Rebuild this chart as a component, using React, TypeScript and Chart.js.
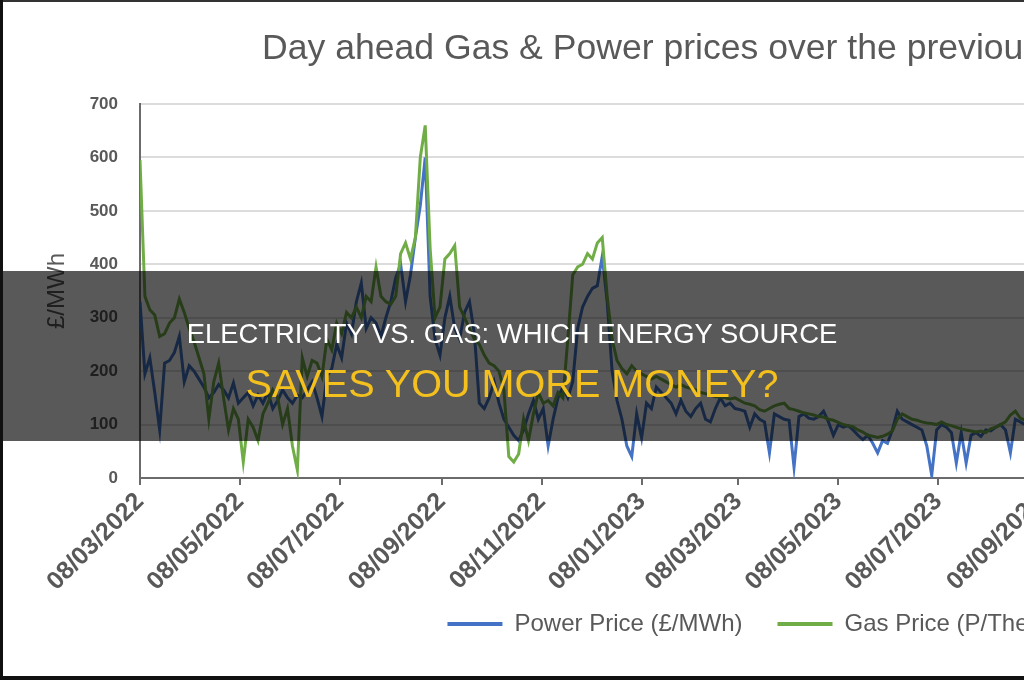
import React, { useEffect, useRef } from 'react';
import { Chart, registerables } from 'chart.js';

Chart.register(...registerables);

// one value every DAY_STEP days, starting 08/03/2022
const DAY_STEP = 3;

const POWER_PRICE = [
  330, 195, 225, 160, 90, 215, 220, 235, 265, 180,
  210, 200, 185, 170, 150, 160, 175, 165, 150, 178,
  140, 150, 160, 135, 155, 140, 160, 130, 145, 165,
  150, 140, 155, 150, 165, 180, 150, 115, 190, 205,
  250, 225, 290, 270, 330, 365, 280, 300, 290, 265,
  300, 330, 375, 400, 330, 380, 450, 510, 600, 340,
  260, 230, 300, 340, 280, 260, 310, 330, 270, 140,
  130, 150, 180, 140, 110, 95, 80, 70, 90, 120,
  145, 110, 130, 60, 110, 150, 170, 150, 180, 280,
  320, 340, 355, 360, 415, 330, 200, 145, 110, 60,
  40, 120, 75, 140, 130, 170, 160, 150, 140, 120,
  145, 125, 115, 130, 140, 110, 105, 130, 150, 135,
  140, 130, 128, 125, 95, 120, 110, 105, 47, 120,
  115, 110, 108, 20, 115, 120, 112, 110, 115, 125,
  105, 80, 100, 95, 98, 90, 80, 72, 80, 65,
  47, 70, 65, 90, 125, 110, 105, 100, 95, 90,
  60, 5, 90, 100, 95, 85, 28, 85, 28, 80,
  85, 78, 90, 88, 95, 100, 90, 47, 110, 105,
  100, 95,
];

const GAS_PRICE = [
  595, 340, 315, 305, 265, 270, 290, 300, 335, 310,
  280, 255, 225, 195, 110, 180, 215, 150, 90, 130,
  110, 30, 110, 95, 70, 120, 140, 165, 150, 100,
  130, 60, 15, 225, 190, 220, 215, 190, 260, 240,
  290, 270, 310, 300, 320, 300, 340, 330, 395, 340,
  330, 325, 340, 420, 440, 410, 450, 600, 660, 430,
  300, 320, 410, 420, 435, 320, 300, 280, 260, 250,
  230, 215, 210, 200, 165, 40, 30, 45, 110, 70,
  120, 160, 140, 145, 135, 160, 150, 260, 380, 395,
  400, 420, 410, 440, 450, 340, 260, 220, 205, 195,
  210, 200, 195, 190, 185, 190, 185, 180, 175, 170,
  175, 170, 168, 165, 160, 158, 155, 152, 152, 150,
  148, 150, 145, 140, 138, 135, 128, 125, 130, 135,
  138, 140, 130, 128, 125, 122, 120, 118, 115, 114,
  110, 108, 104, 100, 98, 96, 90, 86, 80, 78,
  76, 78, 82, 88, 110, 120, 115, 110, 108, 105,
  103, 102, 100, 105, 100, 98, 95, 92, 90, 88,
  86, 88, 85, 92, 95, 100, 105, 118, 125, 112,
  108, 105,
];

const TICK_DAYS = [0, 61, 122, 184, 245, 306, 365, 426, 487, 549, 610, 671, 731];
const TICK_LABELS = [
  '08/03/2022', '08/05/2022', '08/07/2022', '08/09/2022', '08/11/2022',
  '08/01/2023', '08/03/2023', '08/05/2023', '08/07/2023', '08/09/2023',
  '08/11/2023', '08/01/2024', '08/03/2024',
];
const Y_TICKS = [0, 100, 200, 300, 400, 500, 600, 700];

const SERIES_NAMES = ['Power Price (£/MWh)', 'Gas Price (P/Therm)'];
const CHART_TITLE = 'Day ahead Gas & Power prices over the previous 18 months';
const Y_TITLE = '£/MWh';
const BANNER_LINE1 = 'ELECTRICITY VS. GAS: WHICH ENERGY SOURCE';
const BANNER_LINE2 = 'SAVES YOU MORE MONEY?';

const FONT = "'Liberation Sans', Arial, sans-serif";
const GREY = '#595959';

// moves the legend up so that it sits just under the rotated date labels
const legendShift = {
  id: 'legendShift',
  afterLayout(chart: any) {
    const l = chart.legend;
    if (l) {
      l.top -= 19;
      l.bottom -= 19;
    }
  },
};

export default function App() {
  const ref = useRef<HTMLCanvasElement>(null);

  useEffect(() => {
    if (!ref.current) return;
    Chart.defaults.font.family = FONT;
    const toPoints = (arr: number[]) => arr.map((y, i) => ({ x: i * DAY_STEP, y }));
    const chart = new Chart(ref.current, {
      type: 'line',
      data: {
        datasets: [
          {
            label: SERIES_NAMES[0],
            data: toPoints(POWER_PRICE),
            borderColor: '#4472C4',
            backgroundColor: '#4472C4',
            borderWidth: 3,
            pointRadius: 0,
            tension: 0,
            order: 1,
          },
          {
            label: SERIES_NAMES[1],
            data: toPoints(GAS_PRICE),
            borderColor: '#70AD47',
            backgroundColor: '#70AD47',
            borderWidth: 3,
            pointRadius: 0,
            tension: 0,
            order: 0,
          },
        ],
      },
      options: {
        responsive: false,
        animation: false,
        layout: { padding: { top: 104, right: 20, bottom: 15, left: 0 } },
        scales: {
          x: {
            type: 'linear',
            min: 0,
            max: 837,
            afterBuildTicks: (s: any) => {
              s.ticks = TICK_DAYS.map((v) => ({ value: v }));
            },
            afterFit: (s: any) => {
              s.height = 118;
            },
            ticks: {
              autoSkip: false,
              maxRotation: 45,
              minRotation: 45,
              padding: 2,
              color: GREY,
              font: { size: 25, weight: 'bold' },
              callback: (_v: any, i: number) => TICK_LABELS[i],
            },
            grid: {
              drawOnChartArea: false,
              drawTicks: true,
              tickLength: 7,
              color: '#6b6b6b',
              lineWidth: 2,
            },
            border: { color: '#6b6b6b', width: 2 },
          },
          y: {
            min: 0,
            max: 700,
            afterBuildTicks: (s: any) => {
              s.ticks = Y_TICKS.map((v) => ({ value: v }));
            },
            afterFit: (s: any) => {
              s.width = 140;
            },
            ticks: { padding: 22, color: GREY, font: { size: 17, weight: 'bold' } },
            grid: { color: '#dcdcdc', lineWidth: 2, drawTicks: false },
            border: { color: '#6b6b6b', width: 2 },
            title: {
              display: true,
              text: Y_TITLE,
              color: GREY,
              font: { size: 24 },
              padding: { top: 43, bottom: 0 },
            },
          },
        },
        plugins: {
          legend: {
            position: 'bottom',
            labels: {
              boxWidth: 55,
              boxHeight: 4,
              padding: 35,
              color: GREY,
              font: { size: 24 },
              generateLabels: (c: any) =>
                (Chart.defaults.plugins.legend.labels.generateLabels as any)(c)
                  .map((it: any) => ({ ...it, lineWidth: 0 }))
                  .sort((a: any, b: any) => a.datasetIndex - b.datasetIndex),
            },
          },
          tooltip: { enabled: false },
        },
      },
      plugins: [legendShift],
    } as any);
    return () => chart.destroy();
  }, []);

  return (
    <div
      style={{
        position: 'fixed',
        left: 0,
        top: 0,
        width: 1024,
        height: 680,
        overflow: 'hidden',
        background: '#ffffff',
      }}
    >
      <canvas
        ref={ref}
        width={1532}
        height={680}
        style={{ position: 'absolute', left: 0, top: 0, display: 'block' }}
      />
      <div
        style={{
          position: 'absolute',
          left: 262,
          top: 30,
          font: `35.6px ${FONT}`,
          lineHeight: '35.6px',
          color: GREY,
          whiteSpace: 'nowrap',
        }}
      >
        {CHART_TITLE}
      </div>
      <div
        style={{
          position: 'absolute',
          left: 0,
          top: 271,
          width: 1024,
          height: 170,
          background: 'rgba(0,0,0,0.65)',
        }}
      />
      <div
        style={{
          position: 'absolute',
          left: 0,
          width: 1024,
          top: 320,
          textAlign: 'center',
          font: `27.4px ${FONT}`,
          lineHeight: '27.4px',
          color: '#ffffff',
          whiteSpace: 'nowrap',
        }}
      >
        {BANNER_LINE1}
      </div>
      <div
        style={{
          position: 'absolute',
          left: 0,
          width: 1024,
          top: 363.5,
          textAlign: 'center',
          font: `39.6px ${FONT}`,
          lineHeight: '39.6px',
          color: '#f4c01e',
          whiteSpace: 'nowrap',
        }}
      >
        {BANNER_LINE2}
      </div>
      <div style={{ position: 'absolute', left: 0, top: 0, width: 1024, height: 2, background: '#333' }} />
      <div style={{ position: 'absolute', left: 0, top: 0, width: 3, height: 680, background: '#111' }} />
      <div style={{ position: 'absolute', left: 0, top: 676, width: 1024, height: 4, background: '#111' }} />
    </div>
  );
}
